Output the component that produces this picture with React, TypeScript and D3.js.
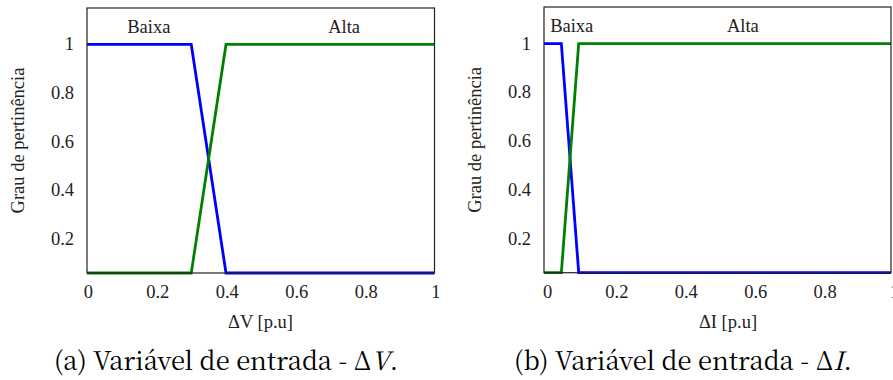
import React from "react";
import * as d3 from "d3";

// ---- data ----
const xTicks = [0, 0.2, 0.4, 0.6, 0.8, 1];
const yTicks = [0.2, 0.4, 0.6, 0.8, 1];
const xTickLabels = ["0", "0.2", "0.4", "0.6", "0.8", "1"];
const yTickLabels = ["0.2", "0.4", "0.6", "0.8", "1"];

const dvX = [0, 0.3, 0.4, 1];
const dvBaixa = [1, 1, 0, 0];
const dvAlta = [0, 0, 1, 1];

const diX = [0, 0.05, 0.1, 1];
const diBaixa = [1, 1, 0, 0];
const diAlta = [0, 0, 1, 1];

const setNames = ["Baixa", "Alta"];
const dvNamePos = [0.178, 0.74];
const diNamePos = [0.08, 0.573];
const namePosY = 1.047;

const yDomain = [0.06, 1.15];

const FONT = "Liberation Serif";
const CAP_FONT = "Noto Serif CJK SC";

type PanelProps = {
  x0: number;
  x1: number;
  top: number;
  bottom: number;
  xs: number[];
  baixa: number[];
  alta: number[];
  namePos: number[];
  xLabel: string;
  xLabelX: number;
  yLabelX: number;
  tickDx: number;
  captionPrefix: string;
  captionVar: string;
  captionX: number;
};

function Panel(p: PanelProps) {
  const x = d3.scaleLinear().domain([0, 1]).range([p.x0, p.x1]);
  const y = d3.scaleLinear().domain(yDomain).range([p.bottom, p.top]).clamp(true);
  const line = d3
    .line<[number, number]>()
    .x((d) => x(d[0]))
    .y((d) => y(d[1]));
  const bPts = p.xs.map((v, i) => [v, p.baixa[i]] as [number, number]);
  const aPts = p.xs.map((v, i) => [v, p.alta[i]] as [number, number]);
  const fs = 18.5;
  return (
    <g>
      <rect x={p.x0} y={p.top} width={p.x1 - p.x0} height={p.bottom - p.top} fill="#fff" />
      <path d={line(bPts) || ""} fill="none" stroke="#0000ff" strokeWidth={2.8} strokeLinejoin="miter" />
      <path d={line(aPts) || ""} fill="none" stroke="#008000" strokeWidth={2.8} strokeLinejoin="miter" />
      <rect
        x={p.x0}
        y={p.top}
        width={p.x1 - p.x0}
        height={p.bottom - p.top}
        fill="none"
        stroke="#222"
        strokeWidth={1.2}
      />
      {setNames.map((n, i) => (
        <text key={n} x={x(p.namePos[i])} y={y(namePosY)} textAnchor="middle" fontFamily={FONT} fontSize={fs} fill="#222">
          {n}
        </text>
      ))}
      {xTicks.map((t, i) => (
        <text key={"xt" + i} x={x(t) + p.tickDx} y={298} textAnchor="middle" fontFamily={FONT} fontSize={fs} fill="#222">
          {xTickLabels[i]}
        </text>
      ))}
      {yTicks.map((t, i) => (
        <text key={"yt" + i} x={p.x0 - 13} y={y(t) + 6} textAnchor="end" fontFamily={FONT} fontSize={fs} fill="#222">
          {yTickLabels[i]}
        </text>
      ))}
      <text x={p.xLabelX} y={328} textAnchor="middle" fontFamily={FONT} fontSize={fs} fill="#222">
        {p.xLabel}
      </text>
      <text
        transform={`translate(${p.yLabelX},${(p.top + p.bottom) / 2}) rotate(-90)`}
        textAnchor="middle"
        fontFamily={FONT}
        fontSize={fs}
        fill="#222"
      >
        Grau de pertinência
      </text>
      <text x={p.captionX} y={370} textAnchor="middle" fontFamily={CAP_FONT} fontSize={25.5} fill="#000">
        {p.captionPrefix}Δ
        <tspan fontStyle="italic">{p.captionVar}</tspan>.
      </text>
    </g>
  );
}

export default function App() {
  return (
    <svg
      width={893}
      height={380}
      viewBox="0 0 893 380"
      style={{ position: "absolute", left: 0, top: 0, background: "#fff" }}
    >
      <rect width={893} height={380} fill="#fff" />
      <Panel
        x0={87}
        x1={434.5}
        top={8}
        bottom={273}
        xs={dvX}
        baixa={dvBaixa}
        alta={dvAlta}
        namePos={dvNamePos}
        xLabel="ΔV [p.u]"
        xLabelX={260.5}
        yLabelX={24}
        tickDx={1.3}
        captionPrefix="(a) Variável de entrada - "
        captionVar="V"
        captionX={226}
      />
      <Panel
        x0={544}
        x1={891}
        top={7}
        bottom={272.7}
        xs={diX}
        baixa={diBaixa}
        alta={diAlta}
        namePos={diNamePos}
        xLabel="ΔI [p.u]"
        xLabelX={728}
        yLabelX={481}
        tickDx={3.5}
        captionPrefix="(b) Variável de entrada - "
        captionVar="I"
        captionX={683}
      />
    </svg>
  );
}
